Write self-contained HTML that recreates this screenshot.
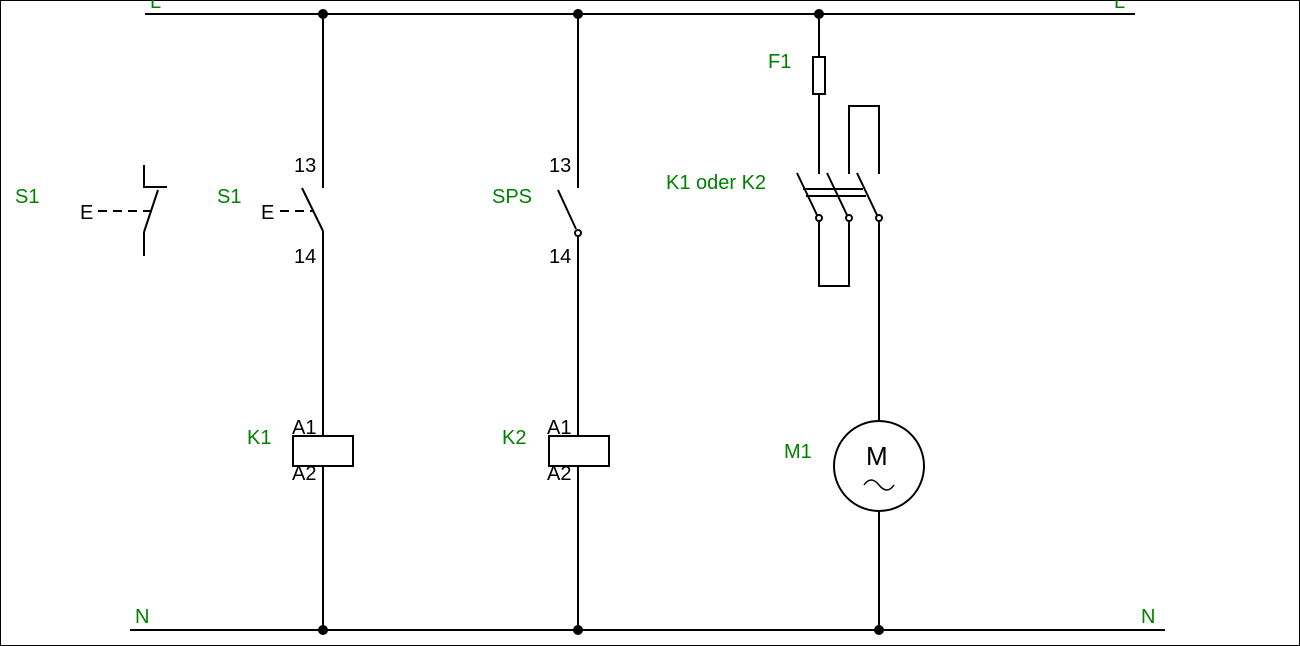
<!DOCTYPE html>
<html><head><meta charset="utf-8"><style>
html,body{margin:0;padding:0;background:#fff;width:1300px;height:646px;overflow:hidden}
text{font-family:"Liberation Sans",sans-serif;font-size:20px}
.g{fill:#008000}.k{fill:#000}
</style></head><body>
<svg width="1300" height="646" viewBox="0 0 1300 646" xmlns="http://www.w3.org/2000/svg">
<rect x="0.5" y="0.5" width="1299" height="645" fill="#fff" stroke="#000"/>
<g stroke="#000" stroke-width="2" fill="none">
<line x1="145" y1="14" x2="1135" y2="14"/>
<line x1="130" y1="630" x2="1165" y2="630"/>
<polyline points="144,165 144,187 167,187"/>
<line x1="158" y1="190" x2="144" y2="232"/>
<line x1="144" y1="232" x2="144" y2="256"/>
<line x1="98" y1="211" x2="152" y2="211" stroke-dasharray="9,6"/>
<line x1="323" y1="14" x2="323" y2="188"/>
<line x1="302" y1="188" x2="323" y2="231"/>
<line x1="323" y1="231" x2="323" y2="630"/>
<line x1="280" y1="211" x2="313" y2="211" stroke-dasharray="9,6"/>
<rect x="293" y="436" width="60" height="30" fill="#fff"/>
<line x1="578" y1="14" x2="578" y2="188"/>
<line x1="558" y1="190" x2="576" y2="229"/>
<circle cx="578" cy="233" r="3"/>
<line x1="578" y1="236" x2="578" y2="630"/>
<rect x="549" y="436" width="60" height="30" fill="#fff"/>
<line x1="819" y1="14" x2="819" y2="174"/>
<rect x="813" y="57" width="12" height="37" fill="#fff"/>
<polyline points="849,174 849,106 879,106 879,174"/>
<line x1="797" y1="173" x2="817" y2="215"/>
<line x1="827" y1="173" x2="847" y2="215"/>
<line x1="857" y1="173" x2="877" y2="215"/>
<line x1="803" y1="189" x2="863" y2="189"/>
<line x1="806" y1="196" x2="866" y2="196"/>
<circle cx="819" cy="218" r="3"/>
<circle cx="849" cy="218" r="3"/>
<circle cx="879" cy="218" r="3"/>
<polyline points="819,221 819,286 849,286 849,221"/>
<line x1="879" y1="221" x2="879" y2="421"/>
<circle cx="879" cy="466" r="45" fill="#fff"/>
<line x1="879" y1="511" x2="879" y2="630"/>
<path d="M864,485 q7,-10 15,0 t15,0" stroke-width="1.5"/>
</g>
<g fill="#000">
<circle cx="323" cy="14" r="5"/><circle cx="578" cy="14" r="5"/><circle cx="819" cy="14" r="5"/>
<circle cx="323" cy="630" r="5"/><circle cx="578" cy="630" r="5"/><circle cx="879" cy="630" r="5"/>
</g>
<text class="g" x="150" y="8">L</text>
<text class="g" x="1114" y="8">L</text>
<text class="g" x="135" y="623">N</text>
<text class="g" x="1141" y="623">N</text>
<text class="g" x="15" y="203">S1</text>
<text class="g" x="217" y="203">S1</text>
<text class="g" x="492" y="203">SPS</text>
<text class="g" x="247" y="444">K1</text>
<text class="g" x="502" y="444">K2</text>
<text class="g" x="768" y="68">F1</text>
<text class="g" x="666" y="189">K1 oder K2</text>
<text class="g" x="784" y="458">M1</text>
<text class="k" x="80" y="219">E</text>
<text class="k" x="261" y="219">E</text>
<text class="k" x="294" y="172">13</text>
<text class="k" x="294" y="263">14</text>
<text class="k" x="549" y="172">13</text>
<text class="k" x="549" y="263">14</text>
<text class="k" x="292" y="434">A1</text>
<text class="k" x="292" y="480">A2</text>
<text class="k" x="547" y="434">A1</text>
<text class="k" x="547" y="480">A2</text>
<text class="k" x="866" y="465" style="font-size:26px">M</text>
</svg>
</body></html>
